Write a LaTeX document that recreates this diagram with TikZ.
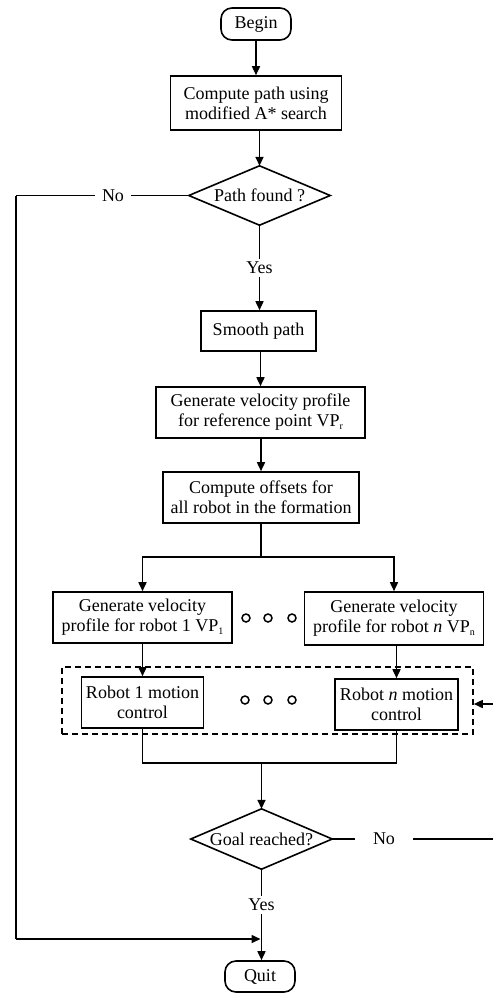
\documentclass[tikz,border=0pt]{standalone}
\usepackage{fontspec}
\setmainfont{Liberation Serif}
\usetikzlibrary{arrows.meta}
\newcommand\sbs[1]{\raisebox{-0.3ex}{\fontsize{10}{10}\selectfont #1}}
\tikzset{
  base/.style={font=\fontsize{18}{20}\selectfont, inner sep=0pt, align=center},
  procbox/.style={base, draw, line width=1.6pt},
  termbox/.style={base, draw, line width=1.6pt, rounded corners=11pt},
  decbox/.style={base},
  lbl/.style={font=\fontsize{18}{20}\selectfont, inner xsep=4pt, inner ysep=3pt},
  conn/.style={line width=1.6pt},
  arr/.style={line width=1.6pt, -{Triangle[length=9pt,width=8pt]}},
  grpbox/.style={draw, dashed, dash pattern=on 6pt off 4pt, line width=1.6pt, inner sep=0pt},
  dot/.style={draw, circle, line width=1.5pt, minimum size=8pt, inner sep=0pt},
}
\begin{document}
\begin{tikzpicture}[x=1pt,y=-1pt]
\useasboundingbox (0,0) rectangle (493,997);

% nodes
\node[termbox, minimum width=70pt, minimum height=32pt] (begin) at (256,24) {Begin};
\node[procbox, minimum width=171pt, minimum height=54pt] (b1) at (256,103) {Compute path using\\modified A* search};
\node[decbox, minimum width=141pt, minimum height=59pt] (d1) at (259.5,195.5) {Path found ?};
\draw[line width=1.6pt] (d1.north) -- (d1.east) -- (d1.south) -- (d1.west) -- cycle;
\node[lbl] (yes1) at (259.5,268) {Yes};
\node[lbl, inner xsep=7pt] (no1) at (113,195.5) {No};
\node[procbox, minimum width=115pt, minimum height=40pt] (smooth) at (258.5,331) {Smooth path};
\node[procbox, minimum width=209pt, minimum height=51pt] (b3) at (260.5,412.5) {Generate velocity profile\\for reference point VP\sbs{r}};
\node[procbox, minimum width=196pt, minimum height=51pt] (b4) at (261,497.5) {Compute offsets for\\all robot in the formation};
\coordinate (sp) at (261,557);
\node[procbox, minimum width=179pt, minimum height=51pt] (vp1) at (142.5,617.5) {Generate velocity\\profile for robot 1 VP\sbs{1}};
\node[procbox, minimum width=179pt, minimum height=53pt] (vpn) at (394,618.5) {Generate velocity\\profile for robot \emph{n} VP\sbs{n}};
\node[dot] (c1) at (246,618) {};
\node[dot] (c2) at (268,618) {};
\node[dot] (c3) at (292,618) {};
\node[grpbox, minimum width=411pt, minimum height=67pt] (grp) at (267.5,700.5) {};
\node[procbox, minimum width=122pt, minimum height=51pt] (r1) at (142.5,702.5) {Robot 1 motion\\control};
\node[procbox, minimum width=123pt, minimum height=51pt] (rn) at (396.5,704.5) {Robot \emph{n} motion\\control};
\node[dot] (c4) at (245,700) {};
\node[dot] (c5) at (268,700) {};
\node[dot] (c6) at (292,700) {};
\coordinate (jn) at (261.5,763);
\node[decbox, minimum width=141pt, minimum height=60pt] (d2) at (261.5,839) {Goal reached?};
\draw[line width=1.6pt] (d2.north) -- (d2.east) -- (d2.south) -- (d2.west) -- cycle;
\node[lbl, inner xsep=18pt] (no2) at (384,839) {No};
\coordinate (re1) at (493,839);
\coordinate (re2) at (493,704);
\node[lbl] (yes2) at (261.5,905) {Yes};
\coordinate (lt) at (16,195.5);
\coordinate (lb) at (16,939);
\coordinate (mj) at (260.5,939);
\node[termbox, minimum width=70pt, minimum height=31pt] (quit) at (260,976.5) {Quit};

% connectors
\draw[arr] (begin.south -| b1.north) -- (b1.north);
\draw[arr] (b1.south -| d1.north) -- (d1.north);
\draw[conn] (d1.south) -- (yes1);
\draw[arr] (yes1) -- (yes1 |- smooth.north);
\draw[arr] (smooth.south -| b3.north) -- (b3.north);
\draw[arr] (b3.south -| b4.north) -- (b4.north);
\draw[conn] (b4.south -| sp) -- (sp);
\draw[arr] (sp) -| (vp1.north);
\draw[arr] (sp) -| (vpn.north);
\draw[arr] (vp1) -- (r1);
\draw[arr] (vpn.south -| rn.north) -- (rn.north);
\draw[conn] (r1.south) |- (jn) -| (rn.south);
\draw[arr] (jn) -- (jn |- d2.north);
\draw[conn] (d2.east) -- (no2) -- (re1);
\draw[arr] (re2) -- (re2 -| grp.east);
\draw[conn] (d1.west) -- (no1);
\draw[line width=0.8pt] (no1.west) -- (lt);
\draw[conn] (lt) -- (lb);
\draw[arr] (lb) -- (mj);
\draw[conn] (d2.south) -- (yes2);
\draw[arr] (yes2) -- (yes2 |- quit.north);
\end{tikzpicture}
\end{document}
